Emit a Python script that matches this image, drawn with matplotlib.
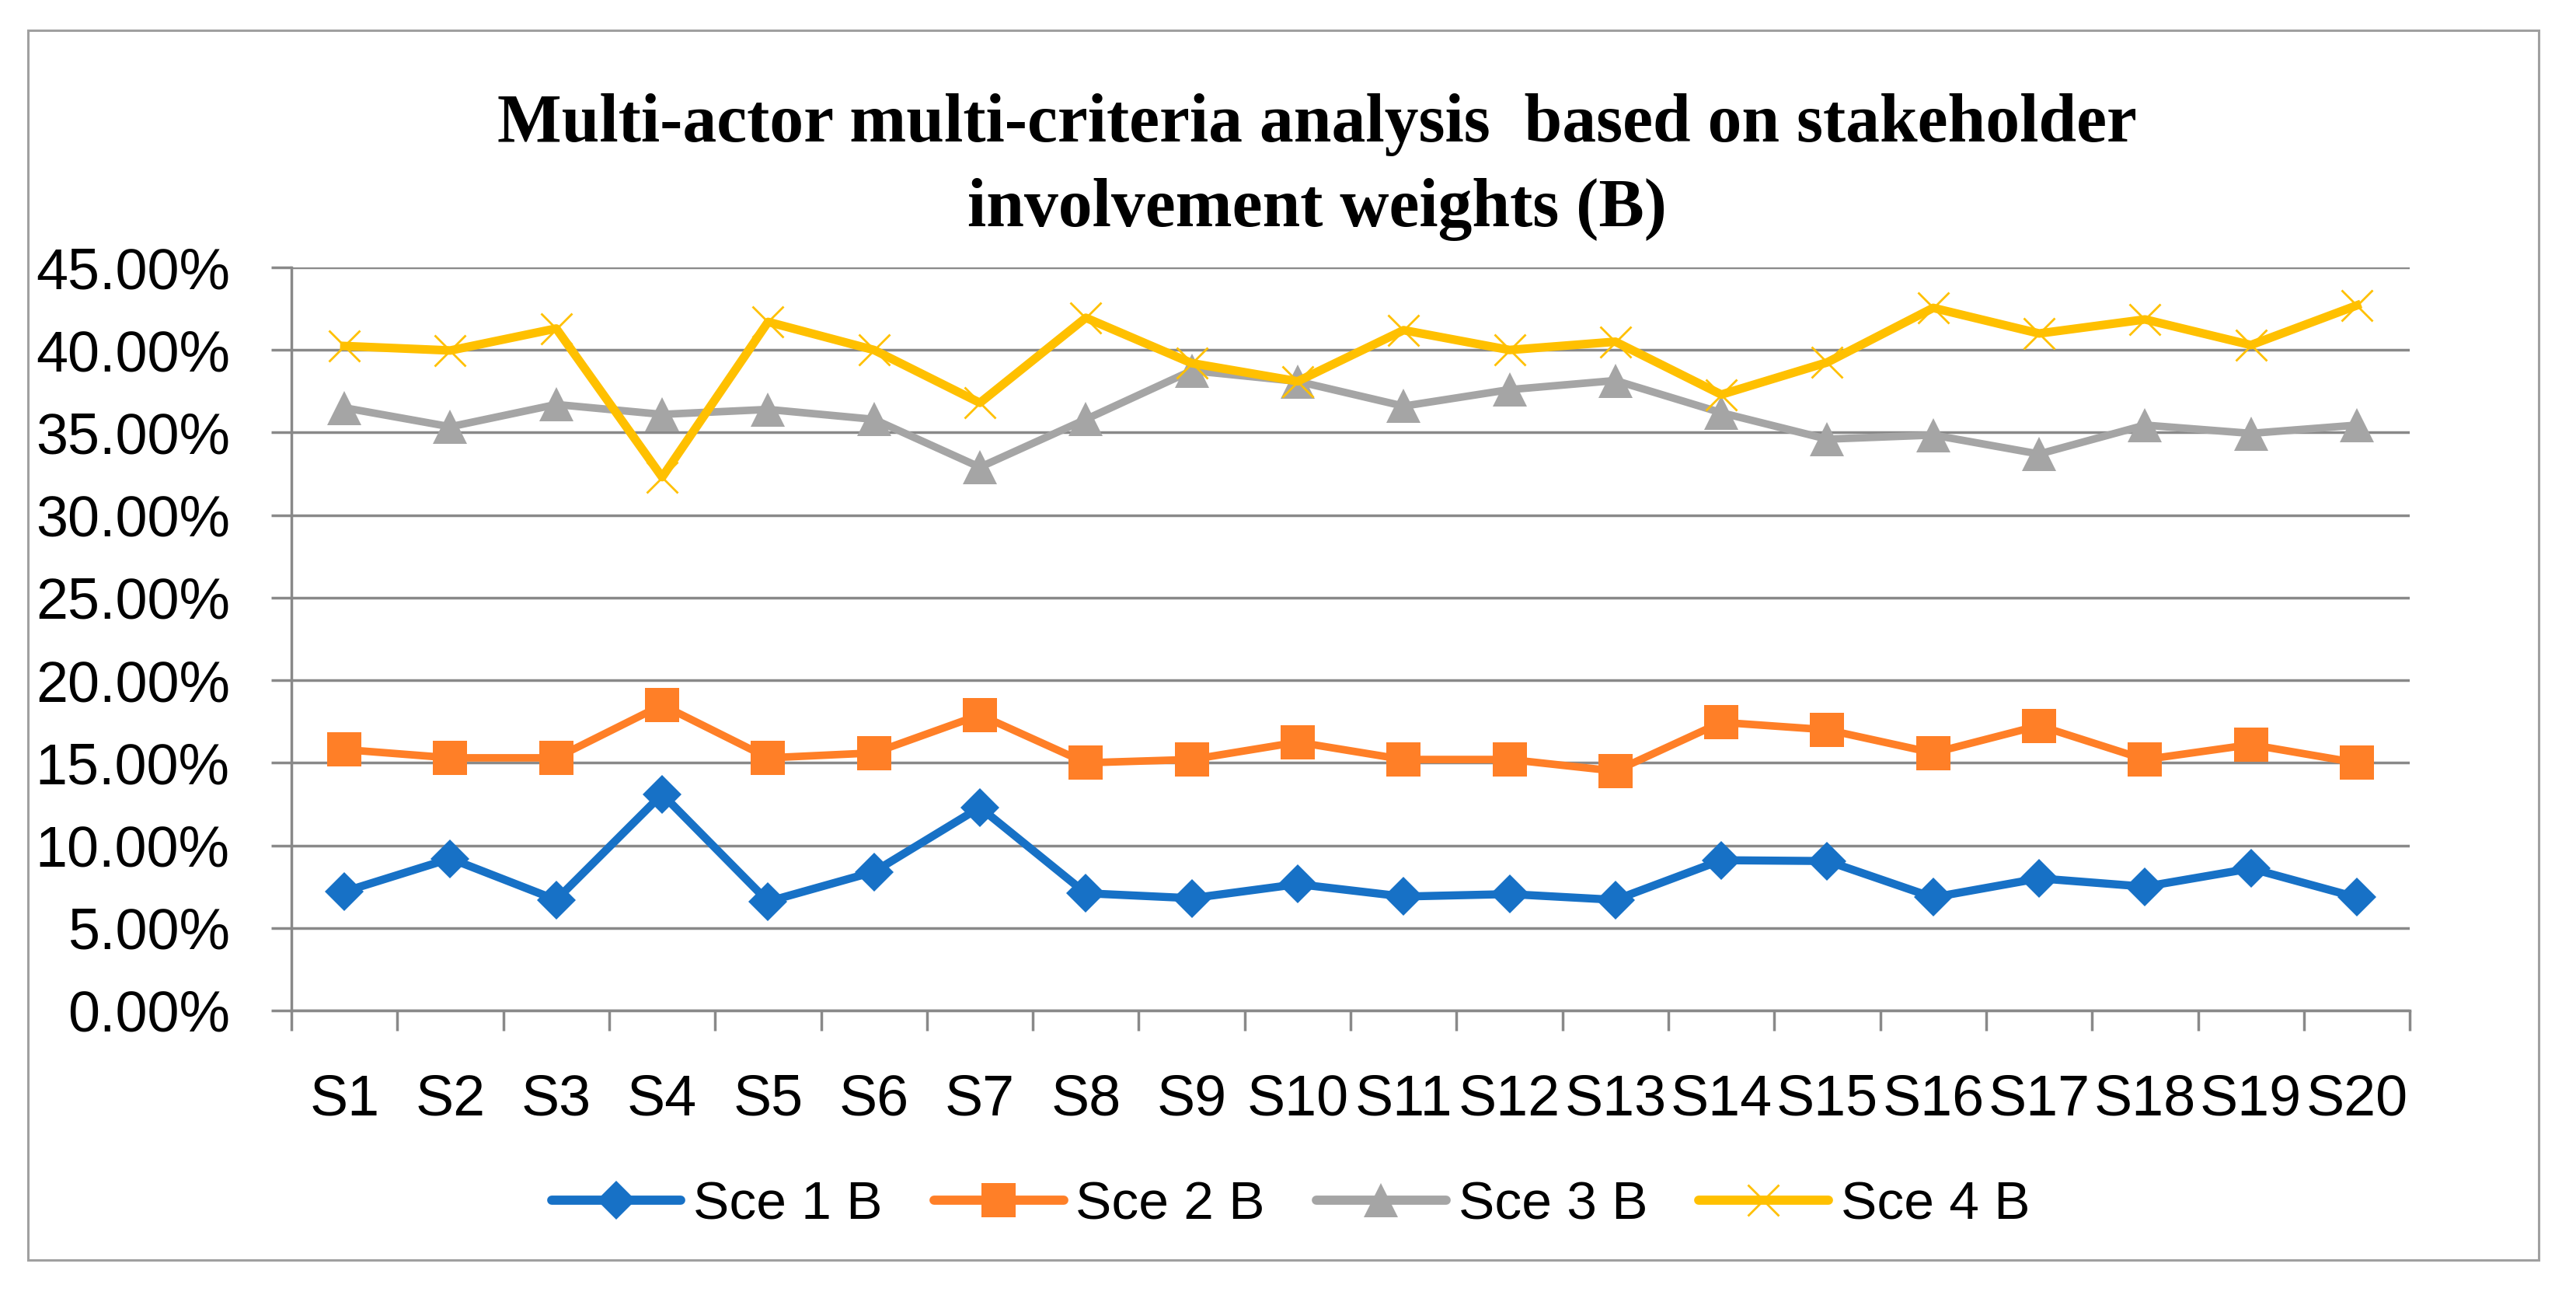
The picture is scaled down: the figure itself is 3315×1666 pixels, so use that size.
import numpy as np
import matplotlib
matplotlib.use('Agg')
import matplotlib.pyplot as plt
from matplotlib.lines import Line2D
from matplotlib.patches import Rectangle
from matplotlib.ticker import FixedLocator, FuncFormatter

categories = ['S' + str(i + 1) for i in range(20)]
sce1 = [7.2, 9.2, 6.7, 13.1, 6.6, 8.4, 12.3, 7.1, 6.8, 7.65, 6.9, 7.05, 6.7, 9.1, 9.05, 6.85, 8.0, 7.5, 8.6, 6.85]
sce2 = [15.8, 15.3, 15.3, 18.5, 15.3, 15.6, 17.9, 15.0, 15.2, 16.25, 15.2, 15.2, 14.5, 17.45, 17.0, 15.6, 17.25, 15.2, 16.1, 15.0]
sce3 = [36.5, 35.35, 36.7, 36.1, 36.4, 35.8, 32.9, 35.8, 38.75, 38.1, 36.6, 37.6, 38.15, 36.2, 34.6, 34.85, 33.7, 35.45, 34.95, 35.45]
sce4 = [40.24, 39.97, 41.3, 32.3, 41.7, 40.0, 36.8, 41.95, 39.2, 38.1, 41.2, 40.0, 40.5, 37.3, 39.25, 42.55, 41.0, 41.85, 40.3, 42.7]
seriesNames = ['Sce 1 B', 'Sce 2 B', 'Sce 3 B', 'Sce 4 B']
yTicks = [0, 5, 10, 15, 20, 25, 30, 35, 40, 45]
title = 'Multi-actor multi-criteria analysis  based on stakeholder\ninvolvement weights (B)'

styles = [
	dict(color='#1771C6', marker='D', markersize=25, markeredgewidth=0, linewidth=7.5),
	dict(color='#FF7F27', marker='s', markersize=32, markeredgewidth=0, linewidth=7),
	dict(color='#A5A5A5', marker='^', markersize=32, markeredgewidth=0, linewidth=7),
	dict(color='#FFC000', marker='x', markersize=29, markeredgewidth=2, linewidth=8),
]

plt.rcParams['font.family'] = ['Liberation Sans', 'DejaVu Sans']
grey = '#898989'

fig = plt.figure(figsize=(33.16, 16.66), dpi=100)
fig.patches.append(Rectangle((0.0109, 0.027), 0.9744, 0.9496, transform=fig.transFigure,
	fill=False, edgecolor='#A0A0A0', linewidth=2.2))

ax = fig.add_axes([0.1131, 0.2197, 0.8221, 0.5738])
x = np.arange(len(categories))
for vals, st in zip([sce1, sce2, sce3, sce4], styles):
	ax.plot(x, np.array(vals) / 100.0, clip_on=False, solid_joinstyle='round', **st)

ax.set_xlim(-0.5, len(categories) - 0.5)
ax.set_ylim(0, 0.45)
ax.set_yticks(np.array(yTicks) / 100.0)
ax.yaxis.set_major_formatter(FuncFormatter(lambda v, p: '{:.2%}'.format(v)))
ax.yaxis.grid(True, color=grey, linewidth=2.5)
ax.set_axisbelow(True)
ax.set_xticks(x)
ax.set_xticklabels(categories)
ax.xaxis.set_minor_locator(FixedLocator(np.arange(-0.5, len(categories), 1.0)))
ax.tick_params(axis='x', which='major', length=0, pad=58, labelsize=53)
ax.tick_params(axis='x', which='minor', length=19, width=2.5, color=grey, direction='out')
ax.tick_params(axis='y', length=19, width=2.5, color=grey, pad=38, labelsize=53)
for s in ['top', 'right']:
	ax.spines[s].set_visible(False)
for s in ['left', 'bottom']:
	ax.spines[s].set_color(grey)
	ax.spines[s].set_linewidth(2.5)

fig.text(0.511, 0.871, title, ha='center', va='center', fontsize=63, fontweight='bold',
	family=['Liberation Serif', 'DejaVu Serif'], linespacing=1.44)

handles = []
for st in styles:
	h = dict(st)
	h['linewidth'] = 8.5
	handles.append(Line2D([], [], solid_capstyle='round', **h))
fig.legend(handles, seriesNames, loc='center', bbox_to_anchor=(0.5009, 0.0696), ncol=4,
	frameon=False, fontsize=50, handlelength=2.4, handletextpad=0.23, columnspacing=0.95)

fig.savefig('out.png', dpi=100, facecolor='white')
